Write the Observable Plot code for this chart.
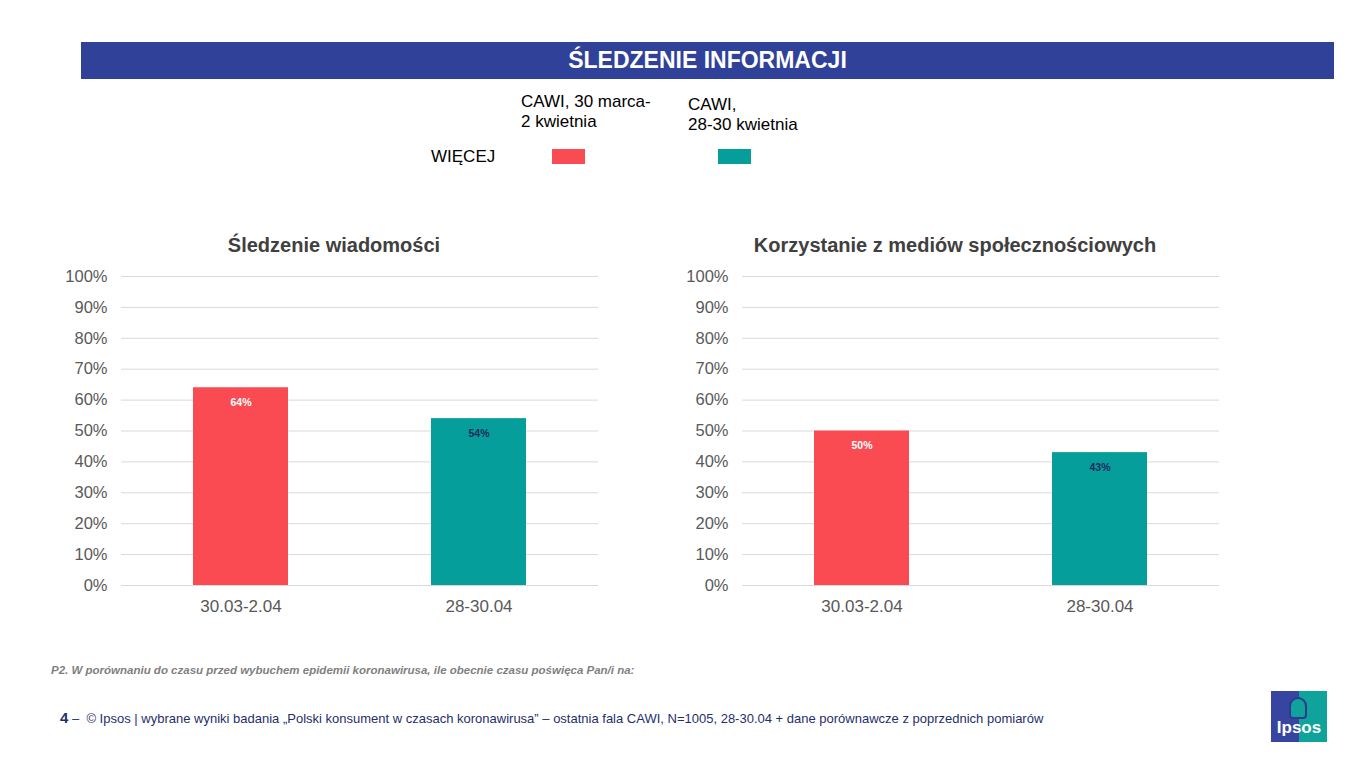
<!DOCTYPE html>
<html>
<head>
<meta charset="utf-8">
<script src="https://cdn.jsdelivr.net/npm/d3@7"></script>
<script src="https://cdn.jsdelivr.net/npm/@observablehq/plot@0.6"></script>
<style>
  html, body { margin: 0; padding: 0; background: #fff; }
  body { width: 1362px; height: 768px; position: relative; overflow: hidden; font-family: "Liberation Sans", Arial, sans-serif; }
  .abs { position: absolute; }
  .header { left: 81px; top: 42px; width: 1253px; height: 37px; background: #2F4198; color: #fff; font-weight: bold; font-size: 23px; line-height: 37px; text-align: center; }
  .leg { font-size: 17px; color: #000; line-height: 20px; white-space: nowrap; }
  .sw { width: 33px; height: 15px; }
  .ctitle { font-size: 20px; font-weight: bold; color: #404040; white-space: nowrap; transform: translateX(-50%); }
  .note { left: 51px; top: 664px; font-size: 11.5px; font-style: italic; font-weight: bold; color: #7f7f7f; white-space: nowrap; }
  .foot { left: 60px; top: 709px; font-size: 13px; color: #1F2F6B; white-space: nowrap; }
  .foot b { font-size: 15px; }
  .logo { left: 1271px; top: 691px; width: 56px; height: 51px; background: linear-gradient(90deg, #3845A0 0 50%, #0FA39B 50% 100%); color: #fff; font-weight: bold; font-size: 17px; text-align: center; }
  .chart { position: absolute; top: 256px; }
</style>
</head>
<body>
<div class="abs header">ŚLEDZENIE INFORMACJI</div>

<div class="abs leg" style="left:521px; top:92px;">CAWI, 30 marca-<br>2 kwietnia</div>
<div class="abs leg" style="left:688px; top:95px;">CAWI,<br>28-30 kwietnia</div>
<div class="abs leg" style="left:431px; top:147px;">WIĘCEJ</div>
<div class="abs sw" id="sw0" style="left:552px; top:149px;"></div>
<div class="abs sw" id="sw1" style="left:718px; top:149px;"></div>

<div class="abs ctitle" style="left:334px; top:234px;">Śledzenie wiadomości</div>
<div class="abs ctitle" style="left:955px; top:234px;">Korzystanie z mediów społecznościowych</div>

<div id="c1" class="chart" style="left:0px;"></div>
<div id="c2" class="chart" style="left:621px;"></div>

<div class="abs note">P2. W porównaniu do czasu przed wybuchem epidemii koronawirusa, ile obecnie czasu poświęca Pan/i na:</div>
<div class="abs foot"><b>4</b> –&nbsp; © Ipsos | wybrane wyniki badania „Polski konsument w czasach koronawirusa” – ostatnia fala CAWI, N=1005, 28-30.04 + dane porównawcze z poprzednich pomiarów</div>
<div class="abs logo"><div style="position:absolute; left:18px; top:6px; width:18px; height:22px; border-radius:9px 9px 4px 4px; background:#0FA39B; border:2px solid #2d3a8f; box-sizing:border-box;"></div><div style="position:absolute; left:0; right:0; top:28px; line-height:18px;">Ipsos</div></div>

<script>
const waves = ["30.03-2.04", "28-30.04"];
const newsValues = [64, 54];
const socialValues = [50, 43];
const yTicks = [0, 10, 20, 30, 40, 50, 60, 70, 80, 90, 100];
const waveColors = ["#FA4B52", "#069E9B"];

document.getElementById("sw0").style.background = waveColors[0];
document.getElementById("sw1").style.background = waveColors[1];

function makeChart(values) {
  const data = waves.map((w, i) => ({wave: w, value: values[i]}));
  return Plot.plot({
    width: 610,
    height: 369,
    marginLeft: 121,
    marginRight: 12,
    marginTop: 20,
    marginBottom: 40,
    style: {fontFamily: "Liberation Sans, Arial, sans-serif", fontSize: "16px", color: "#595959", background: "transparent"},
    x: {domain: waves, paddingInner: 0.6, paddingOuter: 0.3, label: null},
    y: {domain: [0, 100], label: null},
    color: {domain: waves, range: waveColors},
    marks: [
      Plot.ruleY(yTicks, {stroke: "#d9d9d9", strokeWidth: 1}),
      Plot.barY(data, {x: "wave", y: "value", fill: "wave"}),
      Plot.text(data, {x: "wave", y: "value", text: d => d.value + "%", dy: 15, fontWeight: "bold", fontSize: 10.5,
        fill: d => d.wave === waves[0] ? "#ffffff" : "#1B2A5E"}),
      Plot.axisY({ticks: yTicks, tickFormat: d => d + "%", tickSize: 0, tickPadding: 14, fill: "#595959", fontSize: 16.5}),
      Plot.axisX({tickSize: 0, tickPadding: 14, fill: "#595959", fontSize: 17})
    ]
  });
}

document.getElementById("c1").append(makeChart(newsValues));
document.getElementById("c2").append(makeChart(socialValues));
</script>
</body>
</html>
